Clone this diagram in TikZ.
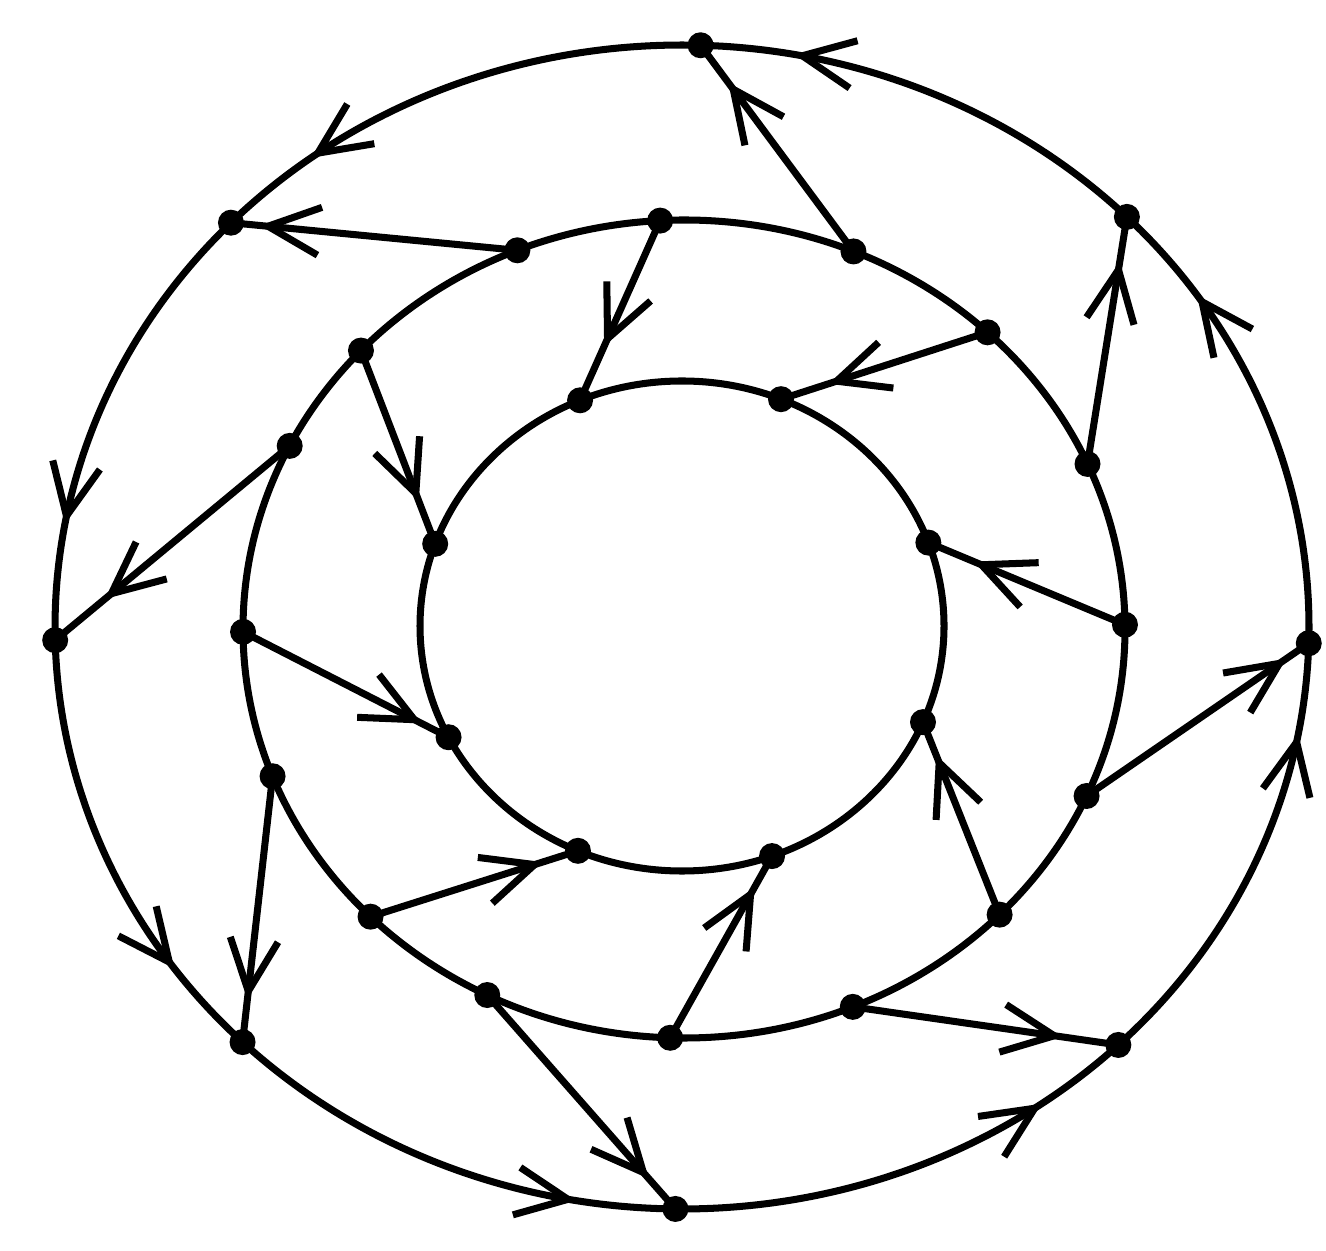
\documentclass[tikz,border=0pt]{standalone}
\usepackage{tikz}
\usetikzlibrary{
    arrows.meta,
    decorations.markings
}
\tikzstyle{dot}=[
    circle,
    fill=black,
    inner sep=0pt,
    minimum size=2.6mm
]
\tikzset{flow/.style={
    postaction={decorate},
    decoration={markings,
        mark=at position #1 with {\arrow{Straight Barb[length=5.2mm,width=4.8mm]}}}
}}

\begin{document}
\begin{tikzpicture}[line width=2pt]
\useasboundingbox (0,0) rectangle (13.26,12.50);
\coordinate (oc) at (6.82,6.23);
\coordinate (mc) at (6.84,6.21);
\coordinate (ic) at (6.82,6.24);

% middle and inner rings
\draw (mc) ellipse [x radius=4.41cm, y radius=4.09cm];
\draw (ic) ellipse [x radius=2.62cm, y radius=2.45cm];

% outer ring points
\path (oc) ++(44.8:6.27cm and 5.82cm) node[dot] (o1) {};
\path (oc) ++(88.3:6.27cm and 5.82cm) node[dot] (o2) {};
\path (oc) ++(136:6.27cm and 5.82cm) node[dot] (o3) {};
\path (oc) ++(181.3:6.27cm and 5.82cm) node[dot] (o4) {};
\path (oc) ++(225.5:6.27cm and 5.82cm) node[dot] (o5) {};
\path (oc) ++(269.4:6.27cm and 5.82cm) node[dot] (o6) {};
\path (oc) ++(314.1:6.27cm and 5.82cm) node[dot] (o7) {};
\path (oc) ++(358.4:6.27cm and 5.82cm) node[dot] (o8) {};

% middle ring points
\path (mc) ++(0.6:4.41cm and 4.09cm) node[dot] (m1) {};
\path (mc) ++(23.8:4.41cm and 4.09cm) node[dot] (m2) {};
\path (mc) ++(46.5:4.41cm and 4.09cm) node[dot] (m3) {};
\path (mc) ++(67.4:4.41cm and 4.09cm) node[dot] (m4) {};
\path (mc) ++(93.1:4.41cm and 4.09cm) node[dot] (m5) {};
\path (mc) ++(112.2:4.41cm and 4.09cm) node[dot] (m6) {};
\path (mc) ++(137.1:4.41cm and 4.09cm) node[dot] (m7) {};
\path (mc) ++(153.4:4.41cm and 4.09cm) node[dot] (m8) {};
\path (mc) ++(180.4:4.41cm and 4.09cm) node[dot] (m9) {};
\path (mc) ++(201.1:4.41cm and 4.09cm) node[dot] (m10) {};
\path (mc) ++(224.7:4.41cm and 4.09cm) node[dot] (m11) {};
\path (mc) ++(243.5:4.41cm and 4.09cm) node[dot] (m12) {};
\path (mc) ++(268.2:4.41cm and 4.09cm) node[dot] (m13) {};
\path (mc) ++(292.5:4.41cm and 4.09cm) node[dot] (m14) {};
\path (mc) ++(315.7:4.41cm and 4.09cm) node[dot] (m15) {};
\path (mc) ++(335.9:4.41cm and 4.09cm) node[dot] (m16) {};

% inner ring points
\path (ic) ++(19.9:2.62cm and 2.45cm) node[dot] (i1) {};
\path (ic) ++(67.8:2.62cm and 2.45cm) node[dot] (i2) {};
\path (ic) ++(112.9:2.62cm and 2.45cm) node[dot] (i3) {};
\path (ic) ++(160.4:2.62cm and 2.45cm) node[dot] (i4) {};
\path (ic) ++(207:2.62cm and 2.45cm) node[dot] (i5) {};
\path (ic) ++(246.6:2.62cm and 2.45cm) node[dot] (i6) {};
\path (ic) ++(290.1:2.62cm and 2.45cm) node[dot] (i7) {};
\path (ic) ++(336.9:2.62cm and 2.45cm) node[dot] (i8) {};

% outer ring, counterclockwise
\draw[flow=0.8] (o1.center) arc[start angle=44.8, end angle=88.3, x radius=6.27cm, y radius=5.82cm];
\draw[flow=0.8] (o2.center) arc[start angle=88.3, end angle=136, x radius=6.27cm, y radius=5.82cm];
\draw[flow=0.75] (o3.center) arc[start angle=136, end angle=181.3, x radius=6.27cm, y radius=5.82cm];
\draw[flow=0.78] (o4.center) arc[start angle=181.3, end angle=225.5, x radius=6.27cm, y radius=5.82cm];
\draw[flow=0.79] (o5.center) arc[start angle=225.5, end angle=269.4, x radius=6.27cm, y radius=5.82cm];
\draw[flow=0.8] (o6.center) arc[start angle=269.4, end angle=314.1, x radius=6.27cm, y radius=5.82cm];
\draw[flow=0.8] (o7.center) arc[start angle=314.1, end angle=358.4, x radius=6.27cm, y radius=5.82cm];
\draw[flow=0.78] (o8.center) arc[start angle=358.4, end angle=404.8, x radius=6.27cm, y radius=5.82cm];

% middle to outer
\draw[flow=0.82] (m2.center) -- (o1.center);
\draw[flow=0.82] (m4.center) -- (o2.center);
\draw[flow=0.9] (m6.center) -- (o3.center);
\draw[flow=0.79] (m8.center) -- (o4.center);
\draw[flow=0.84] (m10.center) -- (o5.center);
\draw[flow=0.86] (m12.center) -- (o6.center);
\draw[flow=0.79] (m14.center) -- (o7.center);
\draw[flow=0.9] (m16.center) -- (o8.center);

% middle to inner
\draw[flow=0.77] (m1.center) -- (i1.center);
\draw[flow=0.77] (m3.center) -- (i2.center);
\draw[flow=0.7] (m5.center) -- (i3.center);
\draw[flow=0.78] (m7.center) -- (i4.center);
\draw[flow=0.87] (m9.center) -- (i5.center);
\draw[flow=0.83] (m11.center) -- (i6.center);
\draw[flow=0.83] (m13.center) -- (i7.center);
\draw[flow=0.83] (m15.center) -- (i8.center);
\end{tikzpicture}
\end{document}
